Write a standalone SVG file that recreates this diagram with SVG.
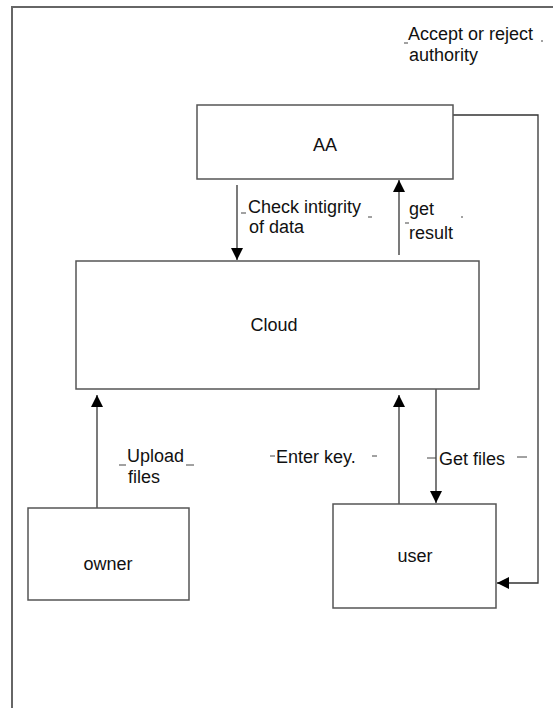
<svg xmlns="http://www.w3.org/2000/svg" width="553" height="708" viewBox="0 0 553 708">
<style>
.box{fill:#fff;stroke:#555;stroke-width:1.5}
.ln{fill:none;stroke:#333;stroke-width:1.3}
.frame{fill:none;stroke:#666;stroke-width:2}
.t{font-family:"Liberation Sans",Arial,sans-serif;font-size:18px;fill:#111}
.c{text-anchor:middle}
.mk{stroke:#444;stroke-width:1}
</style>
<defs>
<marker id="ah" viewBox="0 0 12 12" refX="12" refY="6" markerWidth="12" markerHeight="12" markerUnits="userSpaceOnUse" orient="auto">
<path d="M0,0 L12,6 L0,12 Z" fill="#000"/>
</marker>
</defs>
<rect width="553" height="708" fill="#fff"/>
<path class="frame" d="M12,708 V7 H553"/>
<g id="connectors">
<path class="ln" d="M237,185 V260" marker-end="url(#ah)"/>
<path class="ln" d="M399,255 V180" marker-end="url(#ah)"/>
<path class="ln" d="M97,508 V395" marker-end="url(#ah)"/>
<path class="ln" d="M399,504 V395" marker-end="url(#ah)"/>
<path class="ln" d="M436,389 V503" marker-end="url(#ah)"/>
<path class="ln" d="M453,115 H538 V583 H497" marker-end="url(#ah)"/>
</g>
<g id="labels">
<text class="t" x="408" y="40">Accept or reject</text>
<text class="t" x="409" y="61">authority</text>
<text class="t" x="248" y="213">Check intigrity</text>
<text class="t" x="249" y="233">of data</text>
<text class="t" x="409" y="215">get</text>
<text class="t" x="409" y="239">result</text>
<text class="t" x="127" y="462">Upload</text>
<text class="t" x="128" y="483">files</text>
<text class="t" x="276" y="463">Enter key.</text>
<text class="t" x="439" y="465">Get files</text>
<path class="mk" d="M404,43 h4 M541,41 h2 M241,213 h5 M368,217 h4 M405,223 h4 M461,217 h2 M119,465 h7 M186,465 h8 M270,456 h5 M372,456 h5 M427,458 h9 M517,457 h10"/>
</g>
<g id="AA">
<rect class="box" x="197" y="105" width="256" height="74"/>
<text class="t c" x="325" y="151">AA</text>
</g>
<g id="Cloud">
<rect class="box" x="76" y="261" width="403" height="128"/>
<text class="t c" x="274" y="331">Cloud</text>
</g>
<g id="owner">
<rect class="box" x="28" y="508" width="161" height="92"/>
<text class="t c" x="108" y="570">owner</text>
</g>
<g id="user">
<rect class="box" x="333" y="504" width="163" height="104"/>
<text class="t c" x="415" y="562">user</text>
</g>
</svg>
